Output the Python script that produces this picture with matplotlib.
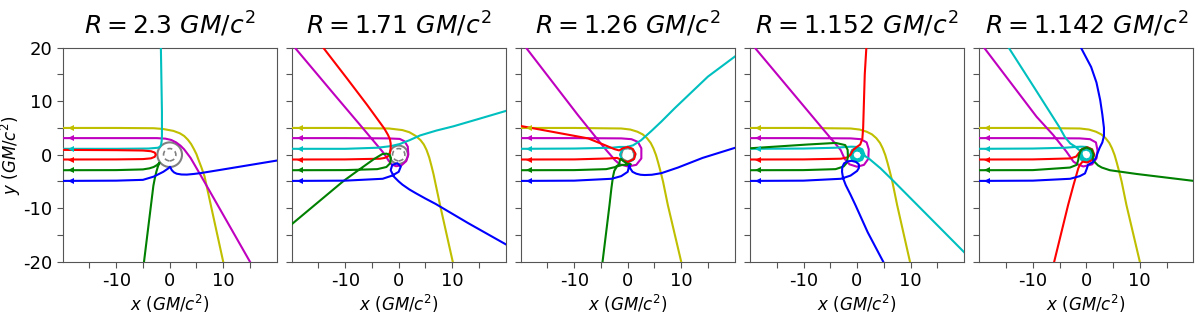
"""Light rays around ultracompact stars of shrinking radius"""

import matplotlib
matplotlib.use("Agg")
import matplotlib.pyplot as plt
from matplotlib.patches import Circle

plt.rcParams['axes.unicode_minus'] = False

# star radii (GM/c^2) for each panel
RADII = [2.3, 1.71, 1.26, 1.152, 1.142]
TITLES = ["2.3", "1.71", "1.26", "1.152", "1.142"]
INNER_R = 1.15  # dashed reference circle

RAY_COLORS = ['y', 'm', 'c', 'r', 'g', 'b']

# ---- panel 1: R = 2.3 ----
P1_YELLOW = [(-20, 5.0), (-10, 5.0), (-3, 4.95), (-1.2, 4.8), (0.7, 4.45), (1.9, 4.0), (2.7, 3.5),
             (3.4, 2.8), (4.0, 2.0), (4.5, 1.1), (5.0, 0.1), (5.4, -1.0), (5.9, -2.3), (6.5, -4.0),
             (10.0, -20)]
P1_MAGENTA = [(-20, 3.1), (-10, 3.1), (-2.4, 3.1), (-0.8, 3.0), (0.3, 2.75), (1.2, 2.3), (2.0, 1.7),
              (2.7, 1.0), (3.3, 0.2), (3.9, -0.6), (4.6, -1.8), (5.7, -3.7), (15.0, -20)]
P1_CYAN = [(-20, 1.1), (-10, 1.1), (-4, 1.15), (-2.2, 1.3), (-1.8, 1.5), (-1.6, 1.9), (-1.5, 2.6),
           (-1.45, 3.5), (-1.45, 8.0), (-1.55, 14.0), (-1.65, 20)]
P1_RED = [(-20, -0.9), (-10, -0.88), (-5, -0.82), (-3.5, -0.68), (-2.8, -0.4), (-2.6, 0.0), (-2.8, 0.4),
          (-3.5, 0.65), (-5, 0.78), (-10, 0.85), (-20, 0.9)]
P1_GREEN = [(-20, -2.9), (-10, -2.88), (-5, -2.75), (-3.8, -2.55), (-3.0, -2.3), (-2.4, -1.95),
            (-1.9, -1.5), (-2.2, -2.2), (-2.5, -3.2), (-2.8, -4.5), (-3.05, -5.8), (-4.8, -20)]
P1_BLUE = [(-20, -4.9), (-10, -4.85), (-5, -4.7), (-3, -4.1), (-1.2, -3.2), (-0.25, -2.55), (0.05, -2.25),
           (0.4, -2.9), (0.8, -3.3), (1.3, -3.55), (2.2, -3.7), (3.2, -3.72), (4.5, -3.6), (5.7, -3.45),
           (9.4, -2.85), (20, -1.1)]

# ---- panel 2: R = 1.71 ----
P2_YELLOW = [(-20, 5.0), (-10, 5.0), (-1.8, 4.9), (0.7, 4.6), (2.0, 4.2), (3.2, 3.5), (4.1, 2.7),
             (4.7, 1.9), (5.2, 0.9), (5.7, -0.5), (6.1, -2.0), (6.5, -3.6), (6.9, -5.5), (7.75, -9.5),
             (10.1, -20)]
P2_MAGENTA = [(-20, 3.1), (-10, 3.1), (-2, 3.05), (0.2, 2.95), (1.1, 2.5), (1.7, 1.5), (1.8, 0.0),
              (1.4, -1.2), (0.5, -2.0), (-0.5, -2.15), (-1.3, -1.85), (-1.9, -1.1), (-2.4, -0.3),
              (-3.05, 0.6), (-7.0, 5.3), (-12.0, 11.2), (-19.4, 20)]
P2_CYAN = [(-20, 1.1), (-10, 1.1), (-4, 1.3), (-1.5, 1.6), (0.2, 2.0), (2.0, 2.7), (4.0, 3.6), (7.0, 4.5),
           (10.2, 5.3), (15.0, 6.7), (20.1, 8.2)]
P2_RED = [(-20, -0.9), (-10, -0.88), (-3.5, -0.75), (-2.6, -0.6), (-2.0, -0.3), (-1.65, 0.3),
          (-1.5, 1.2), (-1.5, 2.1), (-1.65, 2.9), (-2.0, 3.7), (-2.7, 4.9), (-5.9, 9.3), (-9.7, 14.3),
          (-14.1, 20)]
P2_GREEN = [(-20, -2.9), (-10, -2.88), (-4, -2.7), (-2.3, -2.3), (-1.6, -1.6), (-1.45, -0.6), (-1.7, 0.0),
            (-2.3, 0.2), (-3.1, 0.1), (-4.7, -0.87), (-7.5, -2.87), (-10.3, -4.9), (-20, -13)]
P2_BLUE = [(-20, -4.9), (-10, -4.85), (-3, -4.5), (-1.2, -3.9), (0.0, -3.2), (0.4, -2.2), (-0.25, -1.6),
           (-1.2, -1.9), (-1.5, -2.9), (-0.9, -4.1), (0.0, -5.0), (0.7, -5.6), (2.0, -6.5), (3.2, -7.2),
           (5.0, -8.2), (6.9, -9.2), (13, -12.8), (20.1, -16.8)]

# ---- panel 3: R = 1.26 ----
P3_YELLOW = [(-20, 5.0), (-10, 5.0), (-1.2, 4.9), (0.5, 4.7), (1.8, 4.3), (2.8, 3.8), (3.6, 3.1),
             (4.3, 2.2), (4.8, 1.2), (5.3, -0.1), (5.7, -1.5), (6.1, -3.0), (6.6, -5.0), (7.5, -9.4),
             (10.0, -20)]
P3_MAGENTA = [(-20, 3.1), (-10, 3.1), (-1.2, 3.05), (0.7, 2.9), (1.9, 2.4), (2.55, 1.2), (2.55, -0.7),
              (1.6, -1.9), (0.06, -2.2), (-1.5, -1.8), (-2.4, -1.0), (-4.3, 1.2), (-6.8, 4.3),
              (-9.3, 7.4), (-19.0, 20)]
P3_CYAN = [(-20, 1.1), (-10, 1.15), (-3, 1.3), (-1.5, 1.45), (0, 1.45), (1.0, 1.0), (1.45, 0),
           (1.0, -1.0), (0, -1.45), (-1.0, -1.0), (-1.45, 0), (-1.0, 1.0), (0, 1.5), (1.0, 1.75),
           (2.5, 2.7), (4.5, 4.5), (6.3, 6.2), (8.8, 8.7), (15, 14.6), (20.1, 18.4)]
P3_RED = [(-20, -0.9), (-10, -0.88), (-3.5, -0.7), (-2, -0.6), (-1.3, -0.9), (0, -1.4), (1.2, -0.8),
          (1.45, 0.2), (0.9, 1.1), (0, 1.45), (-0.9, 1.2), (-1.6, 0.8), (-2.5, 1.05), (-4.3, 1.8),
          (-7.4, 3.05), (-19.9, 5.35)]
P3_GREEN = [(-20, -2.9), (-10, -2.88), (-4, -2.7), (-2.3, -2.3), (-1.6, -1.8), (-1.45, -1.0),
            (-1.2, -0.8), (-0.8, -1.2), (0, -1.75), (0.6, -1.8), (0.2, -1.9), (-1.0, -1.9), (-2.0, -2.2),
            (-2.5, -3.0), (-2.75, -4.1), (-3.05, -6.3), (-3.4, -9.4), (-4.7, -20)]
P3_BLUE = [(-20, -4.9), (-10, -4.85), (-3, -4.5), (-1.2, -4.0), (0, -3.2), (0.3, -1.95), (0.5, -2.6),
           (0.9, -3.2), (1.6, -3.55), (2.4, -3.75), (3.2, -3.8), (4.5, -3.75), (6.3, -3.45), (9.4, -2.4),
           (14, -0.6), (20.1, 1.3)]

# ---- panel 4: R = 1.152 ----
P4_YELLOW = [(-20, 5.0), (-10, 5.0), (-1.2, 4.9), (0.5, 4.7), (1.8, 4.3), (2.8, 3.8), (3.6, 3.1),
             (4.3, 2.2), (4.8, 1.2), (5.3, -0.1), (5.7, -1.5), (6.1, -3.0), (6.6, -5.0), (7.5, -9.4),
             (9.9, -20)]
P4_MAGENTA = [(-20, 3.1), (-10, 3.1), (-1.2, 3.05), (0.7, 2.9), (1.8, 2.3), (2.2, 1.0), (2.1, -0.8),
              (1.3, -1.9), (0, -2.25), (-1.4, -1.8), (-2.3, -0.8), (-3.05, 0.87), (-6.2, 4.6),
              (-19.1, 20)]
P4_CYAN = [(-20, 1.1), (-10, 1.15), (-4, 1.3), (-2, 1.45), (-1, 1.5), (0, 1.45), (1.0, 1.0), (1.4, 0),
           (0.95, -0.95), (0, -1.35), (-0.95, -0.95), (-1.3, 0), (-0.9, 0.9), (0, 1.2), (0.82, 0.82),
           (1.15, 0), (0.82, -0.82), (0, -1.15), (-0.8, -0.8), (-1.1, 0), (-0.75, 0.75), (0, 0.95),
           (0.67, 0.67), (0.95, 0), (0.67, -0.67), (0, -0.9), (-0.6, -0.6), (-0.85, 0), (-0.57, 0.57),
           (0, 0.8), (0.6, 0.6), (0.95, 0.1), (1.4, -0.2), (2.2, -0.7), (4.4, -2.55), (6.9, -5.0),
           (20.1, -18.3)]
P4_RED = [(-20, -0.9), (-10, -0.88), (-3, -0.75), (-1.8, -0.5), (-1.2, 0.0), (-0.8, 0.8), (-0.1, 1.4),
          (0.6, 1.9), (1.0, 3.0), (1.15, 5.0), (1.3, 10.0), (1.45, 15.0), (1.75, 20)]
P4_GREEN = [(-20, -2.9), (-10, -2.88), (-4, -2.7), (-2.5, -2.2), (-1.9, -1.5), (-1.7, -0.3),
            (-1.75, 0.9), (-2.2, 1.8), (-4, 2.2), (-9.3, 1.9), (-20, 1.2)]
P4_BLUE = [(-20, -4.9), (-10, -4.85), (-3, -4.5), (-1.2, -3.9), (0, -3.05), (0.35, -2.5), (0.35, -1.8),
           (-0.2, -1.35), (-1.0, -1.15), (-1.8, -1.25), (-2.4, -1.6), (-2.75, -2.3), (-2.8, -3.2),
           (-2.6, -4.4), (-2.1, -5.7), (-1.2, -7.5), (-0.3, -9.4), (2.0, -14.5), (4.9, -20)]

# ---- panel 5: R = 1.142 ----
P5_YELLOW = [(-20, 5.0), (-10, 5.0), (-1.2, 4.9), (0.5, 4.7), (1.8, 4.3), (2.8, 3.8), (3.6, 3.1),
             (4.3, 2.2), (4.8, 1.2), (5.3, -0.1), (5.7, -1.5), (6.1, -3.0), (6.6, -5.0), (7.5, -9.4),
             (10.0, -20)]
P5_MAGENTA = [(-20, 3.1), (-10, 3.1), (-1.2, 3.05), (0.7, 2.9), (1.8, 2.3), (2.1, 0.8), (1.9, -0.7),
              (1.1, -1.8), (-0.56, -2.2), (-1.6, -1.8), (-2.4, -1.3), (-3.7, 0.56), (-6.2, 3.7),
              (-9.3, 7.1), (-19.1, 20)]
P5_CYAN = [(-20, 1.1), (-10, 1.15), (-4, 1.3), (-2, 1.45), (-1, 1.5), (0, 1.45), (1.0, 1.0), (1.4, 0),
           (0.95, -0.95), (0, -1.35), (-0.95, -0.95), (-1.3, 0), (-0.9, 0.9), (0, 1.2), (0.82, 0.82),
           (1.15, 0), (0.82, -0.82), (0, -1.15), (-0.8, -0.8), (-1.1, 0), (-0.75, 0.75), (0, 0.95),
           (0.67, 0.67), (0.95, 0), (0.67, -0.67), (0, -0.9), (-0.6, -0.6), (-0.85, 0), (-1.0, 0.6),
           (-1.6, 1.1), (-2.2, 1.6), (-3.0, 2.1), (-4.0, 3.3), (-5.0, 5.1), (-9.7, 12.5), (-14.5, 20)]
P5_RED = [(-20, -0.9), (-10, -0.88), (-3, -0.7), (-1.9, -0.35), (-1.4, 0.3), (-0.8, 1.05), (0.2, 1.4),
          (1.1, 1.0), (1.5, 0), (1.1, -1.0), (0.2, -1.45), (-0.7, -1.3), (-1.2, -1.9), (-1.5, -2.55),
          (-2.4, -5.7), (-3.4, -9.4), (-6.0, -20)]
P5_GREEN = [(-20, -2.9), (-10, -2.88), (-3.05, -2.4), (-1.8, -1.9), (-1.5, -1.0), (-1.4, -0.2),
            (-1.0, 0.9), (0, 1.35), (1.0, 0.95), (1.35, 0), (1.2, -0.8), (1.6, -1.4), (2.2, -2.0),
            (2.9, -2.4), (4.4, -2.9), (9.4, -3.6), (20.1, -4.9)]
P5_BLUE = [(-20, -4.9), (-10, -4.85), (-3, -4.5), (-1.2, -4.0), (-0.25, -3.5), (0.1, -2.6), (0.3, -1.9),
           (1.2, -1.4), (1.8, -0.6), (2.1, 0.3), (2.5, 1.3), (3.0, 2.3), (3.3, 3.5), (3.3, 5.0),
           (3.0, 7.5), (2.6, 10.2), (1.9, 13.5), (0.9, 16.4), (-1.0, 20)]

PANELS = [
    [P1_YELLOW, P1_MAGENTA, P1_CYAN, P1_RED, P1_GREEN, P1_BLUE],
    [P2_YELLOW, P2_MAGENTA, P2_CYAN, P2_RED, P2_GREEN, P2_BLUE],
    [P3_YELLOW, P3_MAGENTA, P3_CYAN, P3_RED, P3_GREEN, P3_BLUE],
    [P4_YELLOW, P4_MAGENTA, P4_CYAN, P4_RED, P4_GREEN, P4_BLUE],
    [P5_YELLOW, P5_MAGENTA, P5_CYAN, P5_RED, P5_GREEN, P5_BLUE],
]

X_TICKS = [-15, -10, -5, 0, 5, 10, 15]
X_LABELS = ['', '-10', '', '0', '', '10', '']
Y_TICKS = [-20, -15, -10, -5, 0, 5, 10, 15, 20]
Y_LABELS = ['-20', '', '-10', '', '0', '', '10', '', '20']


def draw_panel(ax, rays, radius, title, first):
	for ray, col in zip(rays, RAY_COLORS):
		xs = [p[0] for p in ray]
		ys = [p[1] for p in ray]
		ax.plot(xs, ys, color=col, lw=1.5, zorder=3)
		# arrow head where the ray reaches the observer
		ax.plot([-18.5], [ys[0]], marker='<', ms=4.5, color=col, mew=0, zorder=4)

	ax.add_patch(Circle((0, 0), radius, fill=False, edgecolor='gray', lw=1.5, zorder=2))
	ax.add_patch(Circle((0, 0), INNER_R, fill=False, edgecolor='gray', lw=1.2,
	                    linestyle=(0, (3, 2)), zorder=2))

	ax.set_xlim(-20, 20)
	ax.set_ylim(-20, 20)
	ax.set_xticks(X_TICKS)
	ax.set_xticklabels(X_LABELS)
	ax.set_yticks(Y_TICKS)
	if first:
		ax.set_yticklabels(Y_LABELS)
		ax.set_ylabel(r'$y\ (GM/c^2)$', fontsize=12, labelpad=0)
	else:
		ax.set_yticklabels([''] * len(Y_TICKS))
	ax.set_xlabel(r'$x\ (GM/c^2)$', fontsize=12, labelpad=2)
	ax.set_title(r'$R = %s\ GM/c^2$' % title, fontsize=18, pad=10)
	ax.tick_params(labelsize=13, color='#555555', length=4)
	for sp in ax.spines.values():
		sp.set_color('#555555')


def main():
	fig = plt.figure(figsize=(12, 3.15), dpi=100)
	w = 214 / 1200
	h = 214 / 315
	lefts = [62.7, 291.7, 520.7, 750.0, 979.3]
	for i, (rays, radius, title) in enumerate(zip(PANELS, RADII, TITLES)):
		ax = fig.add_axes([lefts[i] / 1200, 53.3 / 315, w, h])
		draw_panel(ax, rays, radius, title, i == 0)

	fig.savefig("out.png", dpi=100)
	plt.close(fig)


if __name__ == "__main__":
	main()
